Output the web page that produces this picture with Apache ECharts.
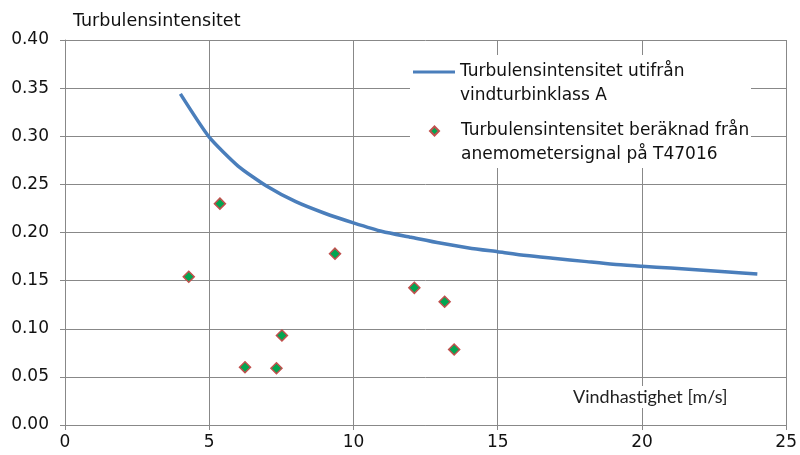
<!DOCTYPE html>
<html>
<head>
<meta charset="utf-8">
<script src="https://cdn.jsdelivr.net/npm/echarts@6/dist/echarts.min.js"></script>
<style>html,body{margin:0;padding:0;background:#fff;}#c{width:800px;height:455px;}</style>
</head>
<body>
<div id="c"></div>
<script>
// Wind speed (m/s) for the class A reference curve
const curveSpeed = [4,5,6,7,8,9,10,11,12,13,14,15,16,17,18,19,20,21,22,23,24];
// Turbulence intensity values
const curveTI = [0.344,0.299,0.269,0.248,0.232,0.220,0.210,0.201,0.195,0.189,0.184,0.180,0.176,0.173,0.170,0.167,0.165,0.163,0.161,0.159,0.157];
// Measured points: wind speed and turbulence intensity
const measSpeed = [4.29,5.37,6.24,7.33,7.52,9.36,12.11,13.16,13.49];
const measTI = [0.154,0.230,0.060,0.059,0.093,0.178,0.1425,0.128,0.0785];
const xTicks = [0,5,10,15,20,25];
const yTicks = [0,0.05,0.10,0.15,0.20,0.25,0.30,0.35,0.40];

const nameCurve = 'Turbulensintensitet utifrån\nvindturbinklass A';
const nameMeas = 'Turbulensintensitet beräknad från\nanemometersignal på T47016';

const chart = echarts.init(document.getElementById('c'));
const gridColor = '#888888';
const font = 'DejaVu Sans';
chart.setOption({
  animation: false,
  backgroundColor: '#fff',
  title: [
    {text: 'Turbulensintensitet', left: 68, top: 7,
     textStyle: {fontFamily: font, fontSize: 17.5, fontWeight: 'normal', color: '#111'}},
    {text: 'Vindhastighet [m/s]', left: 568, top: 386, backgroundColor: '#fff', padding: [2, 5],
     textStyle: {fontFamily: 'Lato', fontSize: 18, fontWeight: 'normal', color: '#222'}}
  ],
  graphic: [{type: 'rect', shape: {x: 410, y: 55, width: 341, height: 113}, style: {fill: '#fff'}, z: 3, silent: true}],
  legend: [
    {data: [{name: nameCurve, icon: 'rect'}], left: 413, top: 36, padding: 0,
     itemWidth: 42, itemHeight: 3,
     formatter: n => '\n' + n,
     textStyle: {fontFamily: font, fontSize: 17, color: '#111', lineHeight: 24}},
    {data: [{name: nameMeas, icon: 'diamond'}], left: 429, top: 95, padding: 0,
     itemWidth: 9, itemHeight: 9,
     formatter: n => '\n' + n,
     textStyle: {fontFamily: font, fontSize: 17, color: '#111', lineHeight: 24, padding: [0, 0, 0, 17]}}
  ],
  grid: {left: 65, right: 12, top: 40, bottom: 30, containLabel: false},
  xAxis: {
    type: 'value', min: xTicks[0], max: xTicks[xTicks.length - 1], interval: 5,
    axisLine: {show: true, lineStyle: {color: gridColor, width: 1}},
    axisTick: {show: true, length: 5, lineStyle: {color: gridColor}},
    splitLine: {show: true, lineStyle: {color: gridColor, width: 1}},
    axisLabel: {fontFamily: font, fontSize: 17, color: '#111', margin: 9}
  },
  yAxis: {
    type: 'value', min: yTicks[0], max: yTicks[yTicks.length - 1], interval: 0.05,
    axisLine: {show: true, lineStyle: {color: gridColor, width: 1}},
    axisTick: {show: true, length: 5, lineStyle: {color: gridColor}},
    splitLine: {show: true, lineStyle: {color: gridColor, width: 1}},
    axisLabel: {fontFamily: font, fontSize: 17, color: '#111', margin: 16, formatter: v => v.toFixed(2)}
  },
  series: [
    {name: nameCurve, type: 'line', showSymbol: false, symbol: 'none', smooth: 0.2,
     data: curveSpeed.map((v, i) => [v, curveTI[i]]),
     lineStyle: {color: '#4a7ebb', width: 3.5}, itemStyle: {color: '#4a7ebb'}},
    {name: nameMeas, type: 'scatter', symbol: 'diamond', symbolSize: 11,
     data: measSpeed.map((v, i) => [v, measTI[i]]),
     itemStyle: {color: '#00a651', borderColor: '#c0504d', borderWidth: 1.5, opacity: 1}}
  ]
});
</script>
</body>
</html>
